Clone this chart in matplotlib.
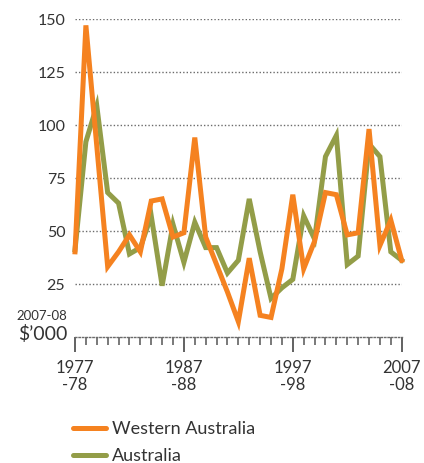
import matplotlib
matplotlib.use('Agg')
import matplotlib.pyplot as plt
from matplotlib.ticker import FixedLocator, NullFormatter

plt.rcParams['font.family'] = ['Lato', 'DejaVu Sans']

# ── data ─────────────────────────────────────────────────────────────────────
years = list(range(1977, 2008))
wa = [40, 147, 90, 33, 40, 48, 40, 64, 65, 47, 49, 94, 47, 34, 21, 7,
      37, 10, 9, 32, 67, 32, 45, 68, 67, 48, 49, 98, 43, 55, 36]
aus = [41, 92, 109, 68, 63, 39, 42, 57, 24, 53, 35, 54, 42, 42, 30, 36,
       65, 40, 18, 23, 27, 57, 46, 85, 95, 34, 38, 91, 85, 40, 36]
y_ticks = [25, 50, 75, 100, 125, 150]
x_major = [1977, 1987, 1997, 2007]
x_labels = ['1977\n-78', '1987\n-88', '1997\n-98', '2007\n-08']

ORANGE = '#f58220'
GREEN = '#939d48'
TXT = '#333333'
GRID = '#6b6b6b'

fig = plt.figure(figsize=(4.24, 4.64), dpi=100)
fig.patch.set_facecolor('white')
ax = fig.add_axes([75 / 424, (464 - 337.5) / 464, 326.7 / 424, 317.5 / 464])

ax.plot(years, aus, color=GREEN, lw=3.6, solid_joinstyle='miter', clip_on=False, zorder=3)
ax.plot(years, wa, color=ORANGE, lw=3.6, solid_joinstyle='miter', clip_on=False, zorder=4)

ax.set_xlim(1977, 2007)
ax.set_ylim(0, 150)

# dotted grid + dotted baseline
for v in y_ticks:
    ax.axhline(v, color=GRID, lw=1, ls=(0, (1, 1.5)), zorder=1)
for s in ['top', 'right', 'left']:
    ax.spines[s].set_visible(False)
ax.spines['bottom'].set_color(GRID)
ax.spines['bottom'].set_linestyle((0, (1, 1.5)))
ax.spines['bottom'].set_linewidth(1)

ax.set_yticks(y_ticks)
ax.tick_params(axis='y', length=0, pad=7, labelsize=11.5, labelcolor=TXT)

ax.xaxis.set_major_locator(FixedLocator(x_major))
ax.set_xticklabels(x_labels, fontsize=12, color=TXT, linespacing=1.1)
ax.xaxis.set_minor_locator(FixedLocator(years))
ax.xaxis.set_minor_formatter(NullFormatter())
ax.tick_params(axis='x', which='major', length=11, width=1.3, color='#555555', pad=5)
ax.tick_params(axis='x', which='minor', length=6, width=1.1, color='#555555')

# unit label
fig.text(67 / 424, 1 - 316 / 464, '2007-08', ha='right', va='center', fontsize=9.5, color=TXT)
fig.text(67 / 424, 1 - 334 / 464, '$\u2019000', ha='right', va='center', fontsize=14, color=TXT)

# legend
for yy, col, lab in [(429, ORANGE, 'Western Australia'), (456, GREEN, 'Australia')]:
    fig.lines.append(plt.Line2D([73 / 424, 106 / 424], [1 - yy / 464, 1 - yy / 464],
                                color=col, lw=3.6, solid_capstyle='round',
                                transform=fig.transFigure))
    fig.text(112 / 424, 1 - yy / 464, lab, ha='left', va='center', fontsize=13, color=TXT)

fig.savefig('out.png', dpi=100, facecolor='white')
